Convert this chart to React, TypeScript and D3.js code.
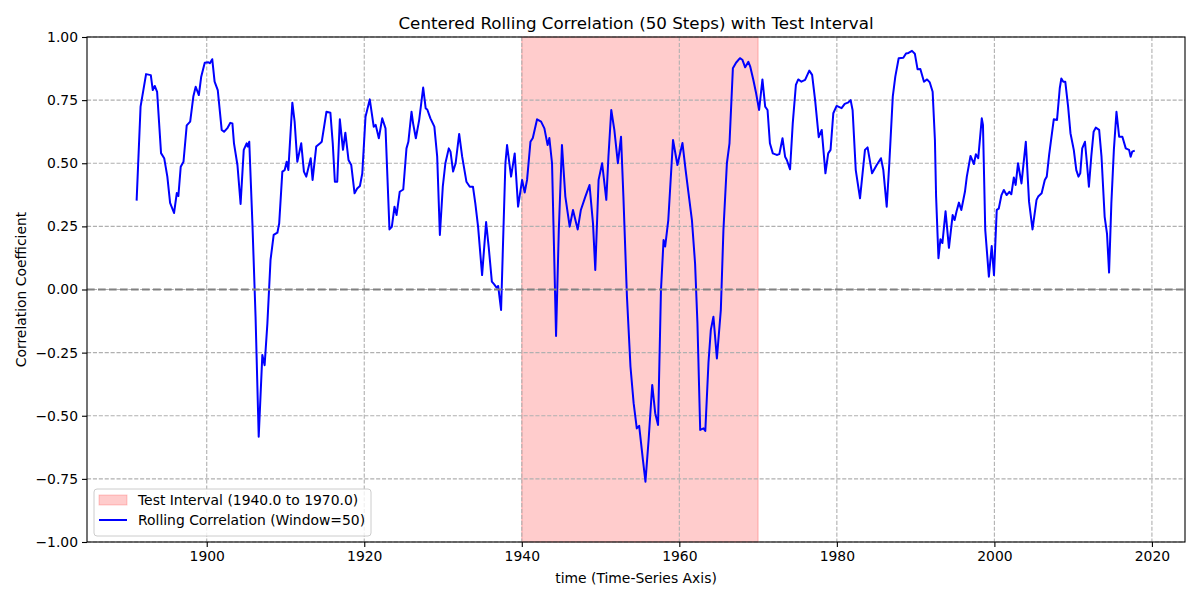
import React, { useEffect, useRef } from "react";
import * as d3 from "d3";

// --- Data
const years = [
  1891.1, 1891.6, 1892.3, 1892.9, 1893.15, 1893.4, 1893.7, 1894.2, 1894.6, 1895.0, 1895.35, 1895.85,
  1896.2, 1896.4, 1896.7, 1897.05, 1897.46, 1897.9, 1898.3, 1898.6, 1899.0, 1899.3, 1899.75, 1900.2,
  1900.4, 1900.7, 1901.0, 1901.4, 1901.9, 1902.2, 1902.6, 1903.0, 1903.26, 1903.46, 1903.9, 1904.3,
  1904.7, 1905.07, 1905.2, 1905.4, 1905.8, 1906.2, 1906.6, 1907.06, 1907.35, 1907.7, 1908.1, 1908.5,
  1908.97, 1909.2, 1909.6, 1909.9, 1910.15, 1910.36, 1910.87, 1911.16, 1911.5, 1912.0, 1912.34, 1912.64,
  1913.2, 1913.44, 1913.9, 1914.4, 1914.6, 1915.2, 1915.7, 1916.0, 1916.27, 1916.57, 1916.9, 1917.3,
  1917.6, 1918.0, 1918.35, 1918.77, 1919.1, 1919.45, 1919.75, 1920.16, 1920.7, 1921.2, 1921.45, 1921.85,
  1922.28, 1922.7, 1923.2, 1923.5, 1923.84, 1924.1, 1924.5, 1924.95, 1925.36, 1925.6, 1926.0, 1926.2,
  1926.55, 1926.97, 1927.48, 1927.8, 1928.0, 1928.4, 1928.9, 1929.26, 1929.6, 1929.97, 1930.3, 1930.73,
  1930.95, 1931.28, 1931.6, 1932.05, 1932.43, 1932.97, 1933.4, 1933.8, 1934.1, 1934.45, 1934.96, 1935.47,
  1935.8, 1936.2, 1936.5, 1936.8, 1937.0, 1937.37, 1937.92, 1938.13, 1938.64, 1939.1, 1939.53, 1940.04,
  1940.37, 1940.67, 1941.1, 1941.4, 1941.94, 1942.45, 1942.87, 1943.28, 1943.5, 1943.84, 1944.35, 1944.7,
  1945.1, 1945.53, 1946.08, 1946.5, 1947.1, 1947.5, 1948.07, 1948.6, 1949.04, 1949.33, 1949.75, 1950.2,
  1950.73, 1951.0, 1951.36, 1951.75, 1952.2, 1952.6, 1952.9, 1953.35, 1953.8, 1954.2, 1954.6, 1954.9,
  1955.38, 1955.7, 1956.1, 1956.56, 1956.94, 1957.3, 1957.67, 1958.0, 1958.2, 1958.6, 1959.2, 1959.76,
  1960.4, 1960.8, 1961.17, 1961.6, 1962.0, 1962.3, 1962.65, 1963.07, 1963.3, 1963.7, 1964.0, 1964.33,
  1964.77, 1965.27, 1965.6, 1966.04, 1966.37, 1966.8, 1967.2, 1967.7, 1968.0, 1968.36, 1968.77, 1969.0,
  1969.4, 1969.75, 1970.13, 1970.55, 1970.9, 1971.2, 1971.5, 1971.87, 1972.37, 1972.7, 1973.1, 1973.43,
  1973.65, 1974.06, 1974.4, 1974.8, 1975.1, 1975.5, 1975.97, 1976.5, 1976.86, 1977.24, 1977.7, 1978.08,
  1978.55, 1978.9, 1979.2, 1979.55, 1979.97, 1980.6, 1981.0, 1981.4, 1981.75, 1982.0, 1982.4, 1982.94,
  1983.57, 1983.9, 1984.47, 1985.06, 1985.6, 1985.9, 1986.33, 1986.66, 1987.1, 1987.42, 1987.85, 1988.44,
  1988.78, 1989.1, 1989.54, 1989.9, 1990.25, 1990.6, 1991.06, 1991.45, 1991.8, 1992.16, 1992.45, 1992.6,
  1992.9, 1993.15, 1993.4, 1993.8, 1994.23, 1994.7, 1994.95, 1995.2, 1995.5, 1995.8, 1996.26, 1996.5,
  1996.97, 1997.4, 1997.65, 1997.95, 1998.4, 1998.55, 1998.84, 1999.3, 1999.66, 1999.95, 2000.3, 2000.55,
  2000.9, 2001.2, 2001.55, 2001.9, 2002.15, 2002.47, 2002.7, 2003.0, 2003.44, 2003.99, 2004.4, 2004.84,
  2005.35, 2005.56, 2006.0, 2006.4, 2006.65, 2006.95, 2007.54, 2007.95, 2008.3, 2008.5, 2008.75, 2009.0,
  2009.36, 2009.66, 2010.08, 2010.4, 2010.68, 2010.9, 2011.15, 2011.5, 2011.75, 2012.0, 2012.3, 2012.6,
  2012.87, 2013.3, 2013.6, 2014.0, 2014.3, 2014.56, 2014.85, 2015.17, 2015.5, 2015.84, 2016.25, 2016.68,
  2017.1, 2017.3, 2017.5, 2017.82,
];

const correlation = [
  0.352, 0.724, 0.853, 0.849, 0.79, 0.806, 0.783, 0.54, 0.52, 0.447, 0.343, 0.303,
  0.382, 0.37, 0.486, 0.506, 0.65, 0.665, 0.764, 0.803, 0.77, 0.843, 0.898, 0.9,
  0.896, 0.912, 0.823, 0.79, 0.632, 0.625, 0.638, 0.66, 0.658, 0.579, 0.493, 0.339,
  0.553, 0.579, 0.566, 0.585, 0.262, -0.108, -0.583, -0.259, -0.3, -0.135, 0.117, 0.216,
  0.225, 0.262, 0.467, 0.473, 0.506, 0.473, 0.74, 0.665, 0.506, 0.579, 0.467, 0.447,
  0.52, 0.434, 0.566, 0.579, 0.585, 0.704, 0.7, 0.579, 0.427, 0.427, 0.674, 0.553,
  0.621, 0.513, 0.493, 0.381, 0.4, 0.41, 0.46, 0.684, 0.753, 0.645, 0.652, 0.599,
  0.678, 0.638, 0.238, 0.248, 0.328, 0.295, 0.387, 0.396, 0.559, 0.585, 0.704, 0.658,
  0.599, 0.671, 0.8, 0.717, 0.713, 0.678, 0.645, 0.526, 0.216, 0.407, 0.5, 0.559,
  0.546, 0.467, 0.5, 0.616, 0.526, 0.427, 0.407, 0.407, 0.341, 0.249, 0.057, 0.267,
  0.168, 0.031, 0.02, 0.007, 0.014, -0.081, 0.5, 0.572, 0.447, 0.539, 0.328, 0.434,
  0.384, 0.434, 0.585, 0.6, 0.674, 0.665, 0.638, 0.572, 0.6, 0.5, -0.184, 0.236,
  0.572, 0.368, 0.249, 0.315, 0.238, 0.315, 0.368, 0.414, 0.262, 0.077, 0.434, 0.5,
  0.355, 0.526, 0.711, 0.632, 0.5, 0.605, 0.368, -0.028, -0.306, -0.45, -0.55, -0.54,
  -0.675, -0.761, -0.596, -0.378, -0.49, -0.537, -0.002, 0.196, 0.17, 0.275, 0.592, 0.493,
  0.58, 0.473, 0.381, 0.275, 0.103, -0.134, -0.556, -0.55, -0.56, -0.29, -0.16, -0.108,
  -0.273, -0.081, 0.236, 0.5, 0.579, 0.876, 0.898, 0.916, 0.91, 0.88, 0.902, 0.883,
  0.83, 0.777, 0.711, 0.832, 0.724, 0.711, 0.579, 0.539, 0.533, 0.536, 0.599, 0.526,
  0.513, 0.476, 0.658, 0.81, 0.832, 0.823, 0.83, 0.867, 0.85, 0.75, 0.603, 0.632,
  0.46, 0.539, 0.553, 0.698, 0.727, 0.718, 0.735, 0.74, 0.75, 0.71, 0.473, 0.361,
  0.553, 0.563, 0.46, 0.493, 0.52, 0.473, 0.328, 0.5, 0.764, 0.843, 0.916, 0.918,
  0.935, 0.937, 0.945, 0.934, 0.872, 0.873, 0.823, 0.832, 0.82, 0.783, 0.592, 0.368,
  0.124, 0.199, 0.184, 0.31, 0.165, 0.295, 0.275, 0.31, 0.344, 0.315, 0.387, 0.447,
  0.529, 0.497, 0.536, 0.52, 0.678, 0.652, 0.236, 0.051, 0.172, 0.057, 0.315, 0.32,
  0.374, 0.394, 0.374, 0.387, 0.377, 0.444, 0.414, 0.5, 0.42, 0.585, 0.348, 0.238,
  0.355, 0.368, 0.381, 0.434, 0.447, 0.533, 0.674, 0.671, 0.797, 0.836, 0.823, 0.823,
  0.724, 0.619, 0.553, 0.473, 0.447, 0.46, 0.559, 0.585, 0.5, 0.407, 0.526, 0.625,
  0.641, 0.632, 0.526, 0.288, 0.22, 0.067, 0.341, 0.553, 0.704, 0.605, 0.605, 0.559,
  0.553, 0.526, 0.546, 0.55,
];

const testInterval = [1940.0, 1970.0];
const xTicks = [1900, 1920, 1940, 1960, 1980, 2000, 2020];
const yTicks = [-1.0, -0.75, -0.5, -0.25, 0.0, 0.25, 0.5, 0.75, 1.0];

const App: React.FC = () => {
  const ref = useRef<SVGSVGElement | null>(null);

  useEffect(() => {
    if (!ref.current) return;
    const width = 1200;
    const height = 600;
    const margin = { top: 37, right: 15, bottom: 58, left: 87 };
    const font = "DejaVu Sans, sans-serif";

    const svg = d3.select(ref.current);
    svg.selectAll("*").remove();
    svg.attr("width", width).attr("height", height);

    svg.append("rect").attr("width", width).attr("height", height).attr("fill", "white");

    const x = d3.scaleLinear().domain([1884.8, 2024.2]).range([margin.left, width - margin.right]);
    const y = d3.scaleLinear().domain([-1, 1]).range([height - margin.bottom, margin.top]);

    // Test interval span
    svg
      .append("rect")
      .attr("x", x(testInterval[0]))
      .attr("y", y(1))
      .attr("width", x(testInterval[1]) - x(testInterval[0]))
      .attr("height", y(-1) - y(1))
      .attr("fill", "red")
      .attr("fill-opacity", 0.2)
      .attr("stroke", "red")
      .attr("stroke-opacity", 0.2)
      .attr("stroke-width", 1.3);

    // Grid
    const grid = svg.append("g").attr("stroke", "#b0b0b0").attr("stroke-width", 1.1).attr("stroke-dasharray", "4.1,1.8");
    grid
      .selectAll("line.gx")
      .data(xTicks)
      .join("line")
      .attr("x1", (d) => x(d))
      .attr("x2", (d) => x(d))
      .attr("y1", y(1))
      .attr("y2", y(-1));
    grid
      .selectAll("line.gy")
      .data(yTicks)
      .join("line")
      .attr("class", "gy")
      .attr("x1", x.range()[0])
      .attr("x2", x.range()[1])
      .attr("y1", (d) => y(d))
      .attr("y2", (d) => y(d));

    // Rolling correlation line
    const pts = years.map((yr, i) => [yr, correlation[i]] as [number, number]);
    const line = d3
      .line<[number, number]>()
      .x((d) => x(d[0]))
      .y((d) => y(d[1]));
    svg
      .append("path")
      .datum(pts)
      .attr("d", line)
      .attr("fill", "none")
      .attr("stroke", "blue")
      .attr("stroke-width", 2)
      .attr("stroke-linejoin", "round");

    // Zero line
    svg
      .append("line")
      .attr("x1", x.range()[0])
      .attr("x2", x.range()[1])
      .attr("y1", y(0))
      .attr("y2", y(0))
      .attr("stroke", "gray")
      .attr("stroke-width", 2)
      .attr("stroke-dasharray", "7.7,3.3");

    // Axes
    const xAxis = svg
      .append("g")
      .attr("transform", `translate(0,${y(-1)})`)
      .call(d3.axisBottom(x).tickValues(xTicks).tickFormat(d3.format("d")).tickSize(5).tickPadding(4));
    const yAxis = svg
      .append("g")
      .attr("transform", `translate(${x.range()[0]},0)`)
      .call(d3.axisLeft(y).tickValues(yTicks).tickFormat(d3.format(".2f")).tickSize(5).tickPadding(4));
    [xAxis, yAxis].forEach((g) => {
      g.select(".domain").remove();
      g.selectAll("line").attr("stroke", "black").attr("stroke-width", 1.1);
      g.selectAll("text").attr("fill", "black").style("font-family", font).style("font-size", "13.9px");
    });

    // Frame
    svg
      .append("rect")
      .attr("x", x.range()[0])
      .attr("y", y(1))
      .attr("width", x.range()[1] - x.range()[0])
      .attr("height", y(-1) - y(1))
      .attr("fill", "none")
      .attr("stroke", "black")
      .attr("stroke-width", 1.1);

    // Title and labels
    svg
      .append("text")
      .attr("x", (x.range()[0] + x.range()[1]) / 2)
      .attr("y", 29)
      .attr("text-anchor", "middle")
      .style("font-family", font)
      .style("font-size", "16.7px")
      .text("Centered Rolling Correlation (50 Steps) with Test Interval");
    svg
      .append("text")
      .attr("x", (x.range()[0] + x.range()[1]) / 2)
      .attr("y", 583)
      .attr("text-anchor", "middle")
      .style("font-family", font)
      .style("font-size", "13.9px")
      .text("time (Time-Series Axis)");
    svg
      .append("text")
      .attr("transform", `translate(26,${(y(1) + y(-1)) / 2}) rotate(-90)`)
      .attr("text-anchor", "middle")
      .style("font-family", font)
      .style("font-size", "13.9px")
      .text("Correlation Coefficient");

    // Legend
    const lg = svg.append("g").attr("transform", "translate(94,489)");
    lg.append("rect")
      .attr("width", 277)
      .attr("height", 47)
      .attr("rx", 3)
      .attr("fill", "white")
      .attr("fill-opacity", 0.8)
      .attr("stroke", "#cccccc")
      .attr("stroke-width", 1);
    lg.append("rect")
      .attr("x", 5)
      .attr("y", 6)
      .attr("width", 28)
      .attr("height", 10)
      .attr("fill", "red")
      .attr("fill-opacity", 0.2)
      .attr("stroke", "red")
      .attr("stroke-opacity", 0.2);
    lg.append("line")
      .attr("x1", 5)
      .attr("x2", 33)
      .attr("y1", 31)
      .attr("y2", 31)
      .attr("stroke", "blue")
      .attr("stroke-width", 2);
    const legendLabels = ["Test Interval (1940.0 to 1970.0)", "Rolling Correlation (Window=50)"];
    lg.selectAll("text.lbl")
      .data(legendLabels)
      .join("text")
      .attr("class", "lbl")
      .attr("x", 44)
      .attr("y", (_, i) => 16 + i * 20)
      .style("font-family", font)
      .style("font-size", "13.9px")
      .text((d) => d);
  }, []);

  return <svg ref={ref} style={{ position: "absolute", left: 0, top: 0 }}></svg>;
};

export default App;
